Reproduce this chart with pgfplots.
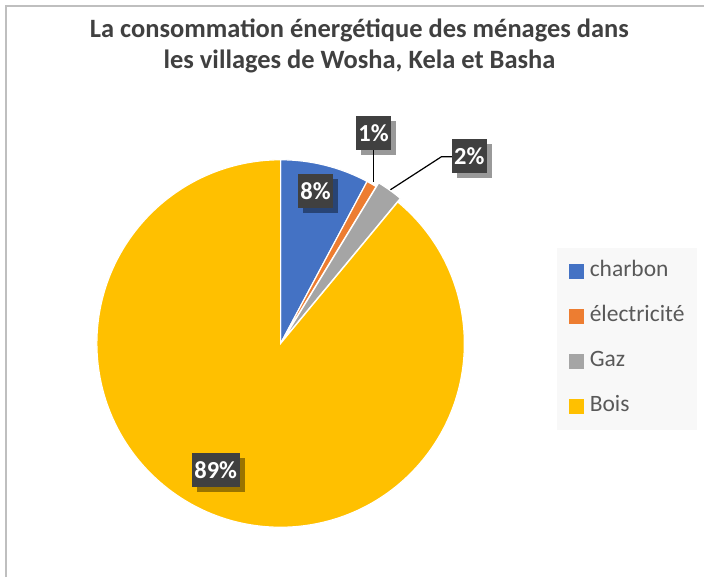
\documentclass[border=0pt]{standalone}
\usepackage{fontspec}
\setmainfont{Carlito}
\usepackage{pgfplots}
\usepackage{pgfplotstable}
\pgfplotsset{compat=1.18}
\usetikzlibrary{shadows}
\definecolor{cblue}{HTML}{4472C4}
\definecolor{corange}{HTML}{ED7D31}
\definecolor{cgray}{HTML}{A5A5A5}
\definecolor{cgold}{HTML}{FFC000}
\definecolor{labbg}{HTML}{404040}
\definecolor{titlec}{HTML}{404040}
\definecolor{legc}{HTML}{595959}
\definecolor{legbg}{HTML}{F8F8F8}
\definecolor{framec}{HTML}{BFBFBF}

\pgfplotstableread{
name value color explode
charbon 7.8 cblue 0
electricite 0.9 corange 0
Gaz 2.3 cgray 4.5
Bois 89.0 cgold 0
}\energy

\pgfplotstablegetrowsof{\energy}
\pgfmathtruncatemacro\nrows{\pgfplotsretval-1}
\xdef\cumangle{90}
\foreach \i in {0,...,\nrows}{%
  \pgfplotstablegetelem{\i}{value}\of\energy
  \pgfmathsetmacro\va{\pgfplotsretval}%
  \pgfmathsetmacro\sa{\cumangle}%
  \pgfmathsetmacro\ea{\cumangle-3.6*\va}%
  \pgfmathsetmacro\ma{(\sa+\ea)/2}%
  \expandafter\xdef\csname startA\i\endcsname{\sa}%
  \expandafter\xdef\csname endA\i\endcsname{\ea}%
  \expandafter\xdef\csname midA\i\endcsname{\ma}%
  \pgfmathprintnumberto[fixed,precision=0,assume math mode=true]{\va}{\lab}%
  \expandafter\xdef\csname labA\i\endcsname{\lab}%
  \pgfplotstablegetelem{\i}{color}\of\energy
  \expandafter\xdef\csname colA\i\endcsname{\pgfplotsretval}%
  \pgfplotstablegetelem{\i}{explode}\of\energy
  \expandafter\xdef\csname expA\i\endcsname{\pgfplotsretval}%
  \xdef\cumangle{\ea}%
}

\begin{document}
\begin{tikzpicture}
\begin{axis}[
  width=705pt, height=578pt, scale only axis,
  xmin=0, xmax=705, ymin=0, ymax=578,
  hide axis, clip=false,
  legend style={at={(axis cs:558,330)}, anchor=north west, draw=none,
    fill=legbg, inner xsep=12pt, inner ysep=12pt,
    font=\fontsize{23.5}{25}\selectfont, text=legc,
    row sep=22pt, column sep=5pt,
    nodes={inner sep=1pt, text height=16pt, text depth=5pt}},
  legend cell align=left,
  legend image code/.code={\fill[#1] (0pt,-7pt) rectangle (14pt,7pt);},
]
\path (axis cs:0,0) rectangle (axis cs:705,578);
% frame
\draw[framec, line width=2pt] (axis cs:6,0) -- (axis cs:6,572) -- (axis cs:705,572);
% pie slices
\pgfplotsinvokeforeach{0,...,3}{%
  \fill[fill=\csname colA#1\endcsname, draw=white, line width=1.2pt,
        shift={(\csname midA#1\endcsname:\csname expA#1\endcsname pt)}]
    (axis cs:281,234) -- ++(\csname startA#1\endcsname:184pt)
    arc[start angle=\csname startA#1\endcsname, end angle=\csname endA#1\endcsname, radius=184pt]
    -- cycle;
}
% leader lines
\draw[black, line width=1.2pt] (axis cs:374,428) -- (axis cs:374,396);
\draw[black, line width=1.2pt] (axis cs:453,421) -- (axis cs:442,421) -- (axis cs:391,388);
% data labels
\tikzset{dlab/.style={fill=labbg, text=white, font=\bfseries\fontsize{24.5}{26}\selectfont,
   inner xsep=2.5pt, minimum height=34pt,
   drop shadow={shadow xshift=5pt, shadow yshift=-5pt, opacity=0.4, fill=black}}}
\node[dlab] at (axis cs:316,387) {\csname labA0\endcsname\%};
\node[dlab] at (axis cs:374,445) {\csname labA1\endcsname\%};
\node[dlab] at (axis cs:470,422) {\csname labA2\endcsname\%};
\node[dlab] at (axis cs:216,107) {\csname labA3\endcsname\%};
% title
\node[text=titlec, font=\bfseries\fontsize{26.5}{32}\selectfont, align=center]
  at (axis cs:360,532) {La consommation énergétique des ménages dans\\les villages de Wosha, Kela et Basha};
% legend
\addlegendimage{cblue}\addlegendentry{charbon}
\addlegendimage{corange}\addlegendentry{électricité}
\addlegendimage{cgray}\addlegendentry{Gaz}
\addlegendimage{cgold}\addlegendentry{Bois}
\end{axis}
\end{tikzpicture}
\end{document}
